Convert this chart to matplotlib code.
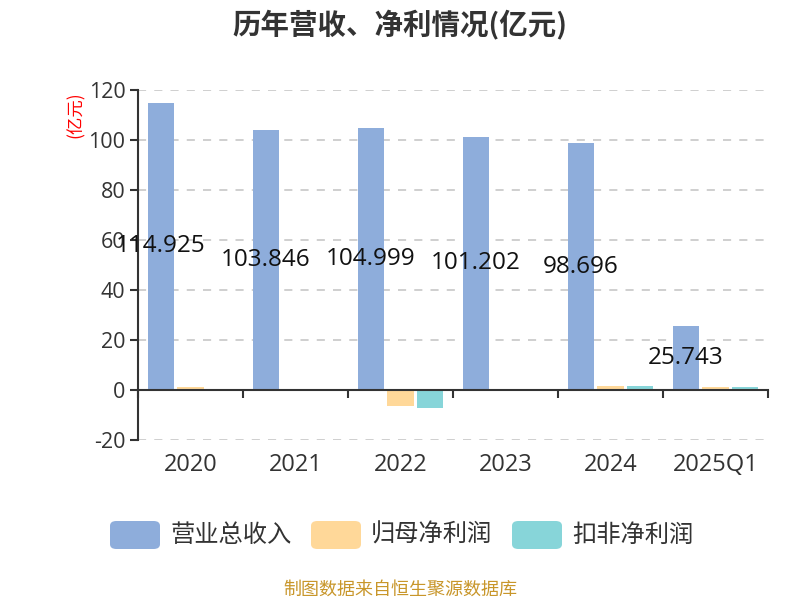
import matplotlib
matplotlib.use("Agg")
import matplotlib.pyplot as plt
from matplotlib.patches import FancyBboxPatch
import matplotlib.transforms as mtransforms
import numpy as np

plt.rcParams['font.family'] = ['Open Sans', 'Noto Sans CJK SC', 'DejaVu Sans']
CJK = ['Noto Sans CJK SC', 'DejaVu Sans']

categories = ["2020", "2021", "2022", "2023", "2024", "2025Q1"]
revenue = [114.925, 103.846, 104.999, 101.202, 98.696, 25.743]
net_profit = [1.2, 0.1, -6.4, 0.05, 1.5, 1.0]
net_profit_deducted = [-0.5, -0.5, -7.1, -0.5, 1.4, 1.2]
series_names = ["营业总收入", "归母净利润", "扣非净利润"]
colors = ["#8eaddb", "#ffd899", "#87d5d9"]
yticks = [-20, 0, 20, 40, 60, 80, 100, 120]

fig = plt.figure(figsize=(8, 6), dpi=100)
ax = fig.add_axes([0.1725, 0.2667, 0.7875, 0.5833])

x = np.arange(len(categories))
w = 0.25
gap = 0.03
series = [revenue, net_profit, net_profit_deducted]
for i, (vals, c) in enumerate(zip(series, colors)):
    ax.bar(x + (i - 1) * (w + gap), vals, width=w, color=c, zorder=3)

for xi, v in zip(x, revenue):
    ax.text(xi - (w + gap), v / 2, f"{v:.3f}", ha="center", va="center",
            fontsize=17.5, color="#111111", zorder=4)

ax.set_xlim(-0.5, len(categories) - 0.5)
ax.set_ylim(-20, 120)
ax.set_yticks(yticks)
ax.set_yticklabels([str(t) for t in yticks], fontsize=15.5, color="#333333")
ax.tick_params(axis="y", length=6, width=1.5, color="#333333", direction="out", pad=3)

for t in yticks:
    ax.axhline(t, color="#cccccc", lw=1.3, ls=(0, (4.5, 4.5)), zorder=1)

for s in ["top", "right"]:
    ax.spines[s].set_visible(False)
ax.spines["left"].set_color("#333333")
ax.spines["left"].set_linewidth(1.5)
ax.spines["bottom"].set_position(("data", 0))
ax.spines["bottom"].set_color("#333333")
ax.spines["bottom"].set_linewidth(1.5)
ax.spines["bottom"].set_zorder(5)

ax.set_xticks(np.arange(len(categories) + 1) - 0.5)
ax.set_xticklabels([])
ax.tick_params(axis="x", length=6, width=1.5, color="#333333", direction="out")

trans = mtransforms.blended_transform_factory(ax.transData, fig.transFigure)
for xi, c in zip(x, categories):
    ax.text(xi, 1 - 465 / 600, c, transform=trans, ha="center", va="center",
            fontsize=17, color="#333333")

fig.text(0.5, 1 - 25 / 600, "历年营收、净利情况(亿元)", ha="center", va="center",
         fontsize=20.5, fontweight="bold", color="#333333", family=CJK)
fig.text(76 / 800, 1 - 115 / 600, "(亿元)", rotation=90, ha="center", va="center",
         fontsize=12.5, color="#ff0000", family=CJK)

# legend
leg_y = 1 - 535 / 600
items = [(110, 170), (311, 371), (512, 572)]
for (bx, tx), name, c in zip(items, series_names, colors):
    p = FancyBboxPatch((bx / 800, leg_y - 14 / 600), 50 / 800, 28 / 600,
                       boxstyle="round,pad=0,rounding_size=0.008",
                       transform=fig.transFigure, facecolor=c, edgecolor="none")
    fig.patches.append(p)
    fig.text(tx / 800, leg_y, name, ha="left", va="center", fontsize=17.5,
             color="#333333", family=CJK)

fig.text(0.5, 1 - 590 / 600, "制图数据来自恒生聚源数据库", ha="center", va="center",
         fontsize=13, color="#c8962a", family=CJK)

fig.savefig("out.png", dpi=100)
